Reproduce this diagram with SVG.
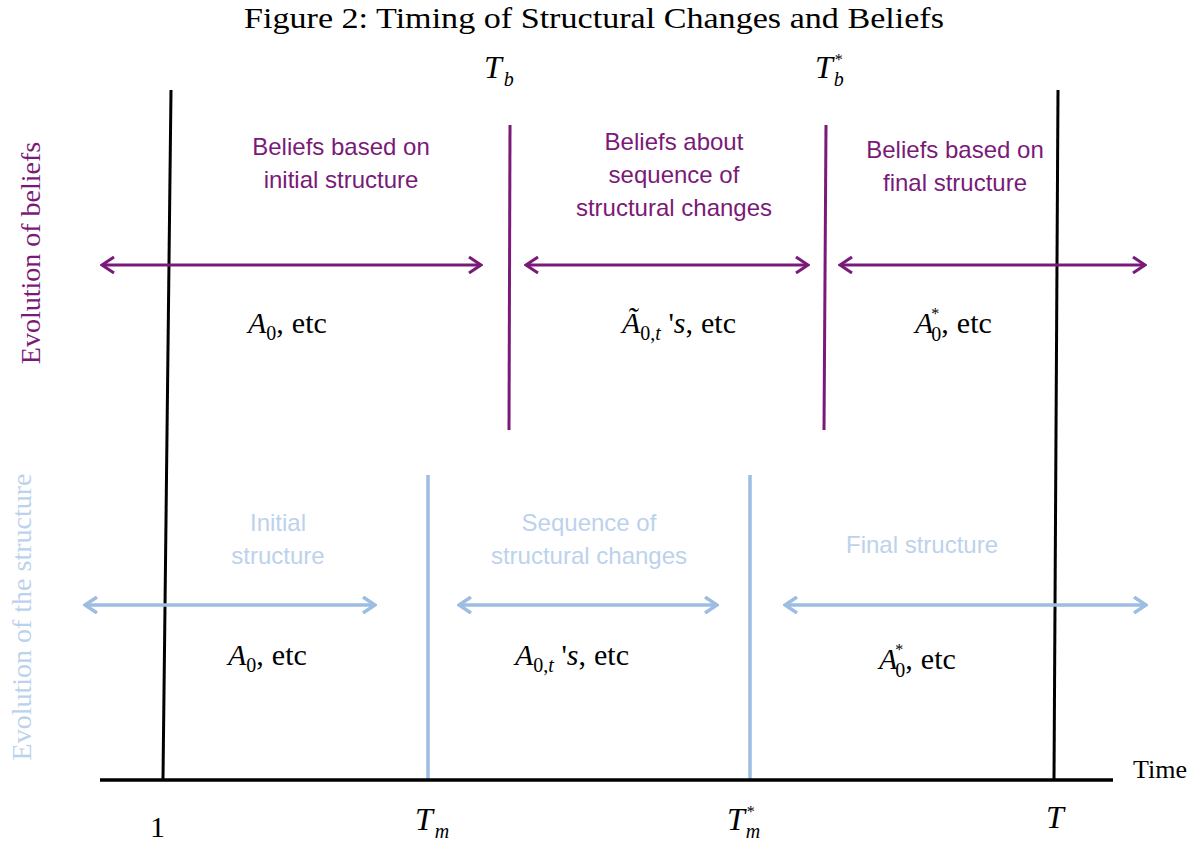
<svg xmlns="http://www.w3.org/2000/svg" width="1196" height="846" viewBox="0 0 1196 846">
<style>
.title{font-family:"Liberation Serif",serif;font-size:29px;fill:#000}
.m{font-family:"Liberation Serif",serif;font-size:30px;fill:#000}
.t{font-size:32px}
.i{font-style:italic}
.sub{font-size:20px}
.st{font-size:16px}
.pt{font-family:"Liberation Sans",sans-serif;font-size:24px;fill:#7a1a78;text-anchor:middle}
.bt{font-family:"Liberation Sans",sans-serif;font-size:24px;fill:#bcd2ec;text-anchor:middle}
.pa{stroke:#7a1a78;stroke-width:3;fill:none}
.ba{stroke:#9dbde3;stroke-width:3.5;fill:none}
.side{font-family:"Liberation Serif",serif;font-size:28px}
</style>
<defs>
<marker id="hp" markerUnits="userSpaceOnUse" viewBox="0 0 16 18" refX="14" refY="9" markerWidth="16" markerHeight="18" orient="auto-start-reverse">
<path d="M2,1 L14,9 L2,17" fill="none" stroke="#7a1a78" stroke-width="3"/>
</marker>
<marker id="hb" markerUnits="userSpaceOnUse" viewBox="0 0 16 18" refX="14" refY="9" markerWidth="16" markerHeight="18" orient="auto-start-reverse">
<path d="M2,1 L14,9 L2,17" fill="none" stroke="#9dbde3" stroke-width="3.5"/>
</marker>
</defs>
<rect width="1196" height="846" fill="#fff"/>
<text class="title" x="244" y="28" textLength="700" lengthAdjust="spacingAndGlyphs">Figure 2: Timing of Structural Changes and Beliefs</text>

<g id="connectors">
<line x1="171" y1="90" x2="163" y2="779" stroke="#000" stroke-width="3"/>
<line x1="1058" y1="90" x2="1054" y2="779" stroke="#000" stroke-width="3"/>
<line x1="510" y1="125" x2="509" y2="430" class="pa"/>
<line x1="826" y1="125" x2="824" y2="430" class="pa"/>
<line x1="428" y1="475" x2="428" y2="780" class="ba"/>
<line x1="750" y1="475" x2="750" y2="780" class="ba"/>
<line x1="100" y1="780" x2="1113" y2="780" stroke="#000" stroke-width="3.5"/>
<line x1="102" y1="265" x2="481" y2="265" class="pa" marker-start="url(#hp)" marker-end="url(#hp)"/>
<line x1="526" y1="265" x2="808" y2="265" class="pa" marker-start="url(#hp)" marker-end="url(#hp)"/>
<line x1="840" y1="265" x2="1145" y2="265" class="pa" marker-start="url(#hp)" marker-end="url(#hp)"/>
<line x1="85" y1="605" x2="375" y2="605" class="ba" marker-start="url(#hb)" marker-end="url(#hb)"/>
<line x1="459" y1="605" x2="717" y2="605" class="ba" marker-start="url(#hb)" marker-end="url(#hb)"/>
<line x1="785" y1="605" x2="1146" y2="605" class="ba" marker-start="url(#hb)" marker-end="url(#hb)"/>
</g>

<g id="side-labels">
<text class="side" fill="#7a1a78" text-anchor="middle" transform="translate(40,253) rotate(-90)">Evolution of beliefs</text>
<text class="side" fill="#bcd2ec" text-anchor="middle" transform="translate(31,617) rotate(-90)">Evolution of the structure</text>
</g>

<g id="belief-initial">
<text class="pt" x="341" y="155">Beliefs based on</text>
<text class="pt" x="341" y="188">initial structure</text>
<text class="m" x="248" y="333"><tspan class="i">A</tspan><tspan class="sub" dy="7">0</tspan><tspan dy="-7">,</tspan><tspan dx="8">etc</tspan></text>
</g>
<g id="belief-sequence">
<text class="pt" x="674" y="150">Beliefs about</text>
<text class="pt" x="674" y="183">sequence of</text>
<text class="pt" x="674" y="216">structural changes</text>
<text class="m" x="622" y="333"><tspan class="i">Ã</tspan><tspan class="sub" dy="7">0,<tspan class="i">t</tspan></tspan><tspan dy="-7"> '</tspan><tspan class="i">s</tspan>,<tspan dx="8">etc</tspan></text>
</g>
<g id="belief-final">
<text class="pt" x="955" y="158">Beliefs based on</text>
<text class="pt" x="955" y="191">final structure</text>
<text class="m" x="915" y="333"><tspan class="i">A</tspan><tspan class="st" dx="-2" dy="-14">*</tspan><tspan class="sub" dx="-8" dy="22">0</tspan><tspan dy="-8">,</tspan><tspan dx="8">etc</tspan></text>
</g>

<g id="struct-initial">
<text class="bt" x="278" y="531">Initial</text>
<text class="bt" x="278" y="564">structure</text>
<text class="m" x="228" y="665"><tspan class="i">A</tspan><tspan class="sub" dy="7">0</tspan><tspan dy="-7">,</tspan><tspan dx="8">etc</tspan></text>
</g>
<g id="struct-sequence">
<text class="bt" x="589" y="531">Sequence of</text>
<text class="bt" x="589" y="564">structural changes</text>
<text class="m" x="515" y="665"><tspan class="i">A</tspan><tspan class="sub" dy="7">0,<tspan class="i">t</tspan></tspan><tspan dy="-7"> '</tspan><tspan class="i">s</tspan>,<tspan dx="8">etc</tspan></text>
</g>
<g id="struct-final">
<text class="bt" x="922" y="553">Final structure</text>
<text class="m" x="879" y="669"><tspan class="i">A</tspan><tspan class="st" dx="-2" dy="-14">*</tspan><tspan class="sub" dx="-8" dy="22">0</tspan><tspan dy="-8">,</tspan><tspan dx="8">etc</tspan></text>
</g>

<g id="time-labels">
<text class="m t" x="484" y="78"><tspan class="i">T</tspan><tspan class="sub i" dx="2" dy="8">b</tspan></text>
<text class="m t" x="815" y="78"><tspan class="i">T</tspan><tspan class="st" dx="2" dy="-13">*</tspan><tspan class="sub i" dx="-9" dy="21">b</tspan></text>
<text class="m" x="150" y="837">1</text>
<text class="m t" x="415" y="830"><tspan class="i">T</tspan><tspan class="sub i" dx="2" dy="8">m</tspan></text>
<text class="m t" x="727" y="830"><tspan class="i">T</tspan><tspan class="st" dx="2" dy="-13">*</tspan><tspan class="sub i" dx="-9" dy="21">m</tspan></text>
<text class="m t" x="1046" y="828"><tspan class="i">T</tspan></text>
<text x="1133" y="778" font-family="Liberation Serif,serif" font-size="26" fill="#000">Time</text>
</g>
</svg>
